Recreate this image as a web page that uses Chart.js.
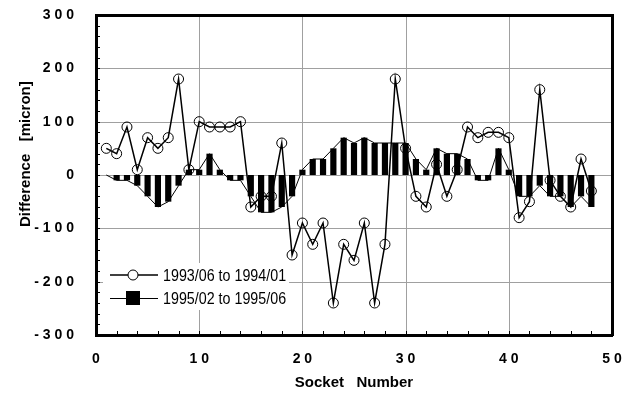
<!DOCTYPE html>
<html lang="en">
<head>
    <meta charset="UTF-8">
    <title>Socket Difference</title>
    <style>
        html, body {
            margin: 0;
            overflow: hidden;
            background: #ffffff;
        }

        #diffChart {
            display: block;
        }
    </style>
    <script src="https://cdn.jsdelivr.net/npm/chart.js"></script>
</head>
<body>
    <canvas id="diffChart" width="632" height="398"></canvas>

    <script>
        const sockets = [1, 2, 3, 4, 5, 6, 7, 8, 9, 10, 11, 12, 13, 14, 15, 16, 17, 18, 19, 20, 21, 22, 23, 24,
            25, 26, 27, 28, 29, 30, 31, 32, 33, 34, 35, 36, 37, 38, 39, 40, 41, 42, 43, 44, 45, 46, 47, 48];

        const diff9394 = [50, 40, 90, 10, 70, 50, 70, 180, 10, 100, 90, 90, 90, 100, -60, -40, -40, 60, -150, -90, -130, -90, -240, -130,
            -160, -90, -240, -130, 180, 50, -40, -60, 20, -40, 10, 90, 70, 80, 80, 70, -80, -50, 160, -10, -40, -60, 30, -30];

        const diff95 = [0, -10, -10, -20, -40, -60, -50, -20, 10, 10, 40, 10, -10, -10, -40, -70, -70, -60, -40, 10, 30, 30, 50, 70,
            60, 70, 60, 60, 60, 60, 30, 10, 50, 40, 40, 30, -10, -10, 50, 10, -40, -40, -20, -40, -40, -60, -40, -60];

        const seriesNames = ['1993/06 to 1994/01', '1995/02 to 1995/06'];
        const xTickEvery = 10;
        const yTickEvery = 100;

        const toPoints = (vals) => sockets.map((s, i) => ({ x: s, y: vals[i] }));
        const spaced = (v) => String(v).split('').join(' ');

        const axisFont = { family: 'Arial, "Liberation Sans", sans-serif', size: 14, weight: 'bold' };
        const titleFont = { family: 'Arial, "Liberation Sans", sans-serif', size: 15, weight: 'bold' };

        // thick black box round the plot, drawn as four filled strips
        const drawFrame = (ctx, a) => {
            const w = 3;
            const l = Math.round(a.left), r = Math.round(a.right);
            const t = Math.round(a.top), b = Math.round(a.bottom);
            ctx.save();
            ctx.fillStyle = '#000';
            ctx.fillRect(l - 1, t - 1, r - l + 2, w);
            ctx.fillRect(l - 1, b - 1, r - l + 2, w);
            ctx.fillRect(l - 1, t - 1, w, b - t + 2);
            ctx.fillRect(r - 1, t - 1, w, b - t + 2);
            ctx.restore();
        };

        // gray grid behind the data
        const gridLines = {
            id: 'gridLines',
            beforeDatasetsDraw(chart) {
                const { ctx, chartArea: a, scales } = chart;
                ctx.save();
                ctx.strokeStyle = '#a0a0a0';
                ctx.lineWidth = 1;
                scales.x.ticks.filter(t => t.value % xTickEvery === 0).forEach(t => {
                    const x = Math.round(scales.x.getPixelForValue(t.value)) + 0.5;
                    ctx.beginPath();
                    ctx.moveTo(x, a.top);
                    ctx.lineTo(x, a.bottom);
                    ctx.stroke();
                });
                scales.y.ticks.filter(t => t.value % yTickEvery === 0).forEach(t => {
                    const y = Math.round(scales.y.getPixelForValue(t.value)) + 0.5;
                    ctx.beginPath();
                    ctx.moveTo(a.left, y);
                    ctx.lineTo(a.right, y);
                    ctx.stroke();
                });
                ctx.restore();
            },
            afterDatasetsDraw(chart) {
                drawFrame(chart.ctx, chart.chartArea);
            }
        };

        // frame, inward minor ticks and the legend box inside the plot
        const decorations = {
            id: 'decorations',
            afterDraw(chart) {
                const { ctx, chartArea: a, scales } = chart;
                ctx.save();
                ctx.strokeStyle = '#000';
                ctx.lineWidth = 1;
                scales.y.ticks.forEach(t => {
                    const y = Math.round(scales.y.getPixelForValue(t.value)) + 0.5;
                    ctx.beginPath();
                    ctx.moveTo(a.left, y);
                    ctx.lineTo(a.left + 4, y);
                    ctx.stroke();
                });
                scales.x.ticks.forEach(t => {
                    const x = Math.round(scales.x.getPixelForValue(t.value)) + 0.5;
                    ctx.beginPath();
                    ctx.moveTo(x, a.bottom);
                    ctx.lineTo(x, a.bottom - 4);
                    ctx.stroke();
                });
                ctx.restore();

                drawFrame(ctx, a);

                // legend
                ctx.save();
                ctx.fillStyle = '#fff';
                ctx.fillRect(103, 263, 186, 47);
                ctx.strokeStyle = '#000';
                ctx.lineWidth = 1.5;
                ctx.beginPath();
                ctx.moveTo(110, 275);
                ctx.lineTo(158, 275);
                ctx.stroke();
                ctx.lineWidth = 1;
                ctx.beginPath();
                ctx.arc(133, 275, 5, 0, Math.PI * 2);
                ctx.fill();
                ctx.stroke();

                ctx.beginPath();
                ctx.moveTo(110, 298.5);
                ctx.lineTo(158, 298.5);
                ctx.stroke();
                ctx.fillStyle = '#000';
                ctx.fillRect(126, 291, 14, 14);

                // narrow legend text
                ctx.font = '17px Arial, "Liberation Sans", sans-serif';
                ctx.textBaseline = 'middle';
                ctx.textAlign = 'left';
                [[chart.data.datasets[0].label, 276], [chart.data.datasets[1].label, 299]].forEach(([txt, y]) => {
                    ctx.save();
                    ctx.translate(163, y);
                    ctx.scale(0.84, 1);
                    ctx.fillText(txt, 0, 0);
                    ctx.restore();
                });
                ctx.restore();
            }
        };

        const ctx = document.getElementById('diffChart').getContext('2d');
        const chart = new Chart(ctx, {
            type: 'bar',
            data: {
                datasets: [
                    {
                        type: 'line',
                        label: seriesNames[0],
                        data: toPoints(diff9394),
                        borderColor: '#000',
                        borderWidth: 1.5,
                        pointRadius: 5,
                        pointBorderWidth: 1,
                        pointBorderColor: '#000',
                        pointBackgroundColor: 'rgba(0,0,0,0)',
                        tension: 0,
                        order: 0,
                    },
                    {
                        type: 'line',
                        label: seriesNames[1],
                        data: toPoints(diff95),
                        borderColor: '#000',
                        borderWidth: 1,
                        pointRadius: 0,
                        tension: 0,
                        order: 1,
                    },
                    {
                        type: 'bar',
                        label: seriesNames[1],
                        data: toPoints(diff95),
                        backgroundColor: '#000',
                        borderWidth: 0,
                        categoryPercentage: 1,
                        barPercentage: 0.6,
                        order: 2,
                    },
                ],
            },
            options: {
                responsive: false,
                animation: false,
                layout: { padding: { top: 15, right: 20, bottom: 0, left: 0 } },
                plugins: {
                    legend: { display: false },
                    tooltip: { enabled: false },
                },
                scales: {
                    x: {
                        type: 'linear',
                        min: 0,
                        max: 50,
                        offset: false,
                        border: { display: false },
                        grid: { display: false },
                        ticks: {
                            stepSize: 2,
                            autoSkip: false,
                            maxRotation: 0,
                            padding: 8,
                            color: '#000',
                            font: axisFont,
                            callback: v => (v % xTickEvery === 0 ? spaced(v) : ''),
                        },
                        title: {
                            display: true,
                            text: 'Socket   Number',
                            color: '#000',
                            font: titleFont,
                            padding: { top: 0, bottom: 6 },
                        },
                        afterFit: s => {
                            s.height = 63;
                            s.paddingLeft = 0;
                            s.paddingRight = 0;
                        },
                    },
                    y: {
                        min: -300,
                        max: 300,
                        border: { display: false },
                        grid: { display: false },
                        ticks: {
                            stepSize: 20,
                            autoSkip: false,
                            padding: 14,
                            color: '#000',
                            font: axisFont,
                            callback: v => (v % yTickEvery === 0 ? spaced(v) : ''),
                        },
                        title: {
                            display: true,
                            text: '          Difference   [micron]',
                            color: '#000',
                            font: titleFont,
                            padding: { top: 17, bottom: 0 },
                        },
                        afterFit: s => {
                            s.width = 96;
                            s.paddingTop = 0;
                            s.paddingBottom = 0;
                        },
                    },
                },
            },
            plugins: [gridLines, decorations],
        });
    </script>
</body>
</html>
